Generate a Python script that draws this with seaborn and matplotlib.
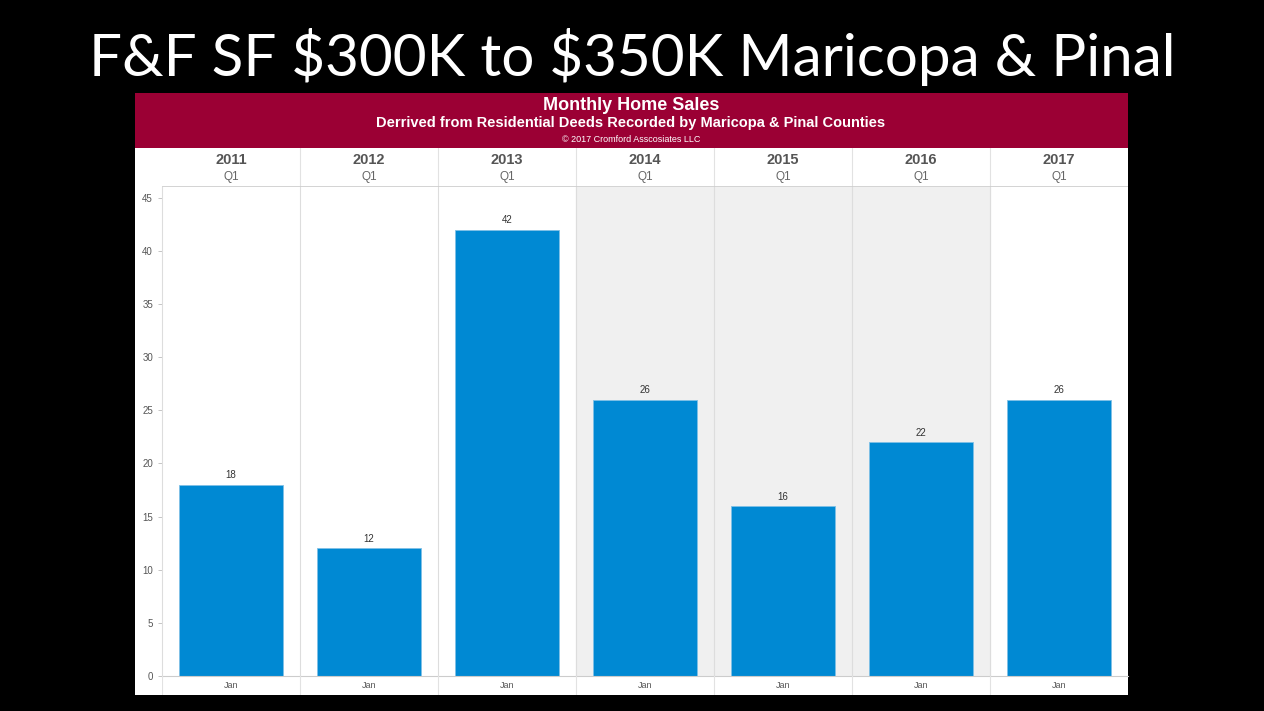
import matplotlib
matplotlib.use("Agg")
import matplotlib.pyplot as plt
import seaborn as sns
import pandas as pd
from matplotlib.patches import Rectangle

# Data
years = ["2011", "2012", "2013", "2014", "2015", "2016", "2017"]
quarters = ["Q1", "Q1", "Q1", "Q1", "Q1", "Q1", "Q1"]
months = ["Jan", "Jan", "Jan", "Jan", "Jan", "Jan", "Jan"]
sales = [18, 12, 42, 26, 16, 22, 26]
shaded_years = ["2014", "2015", "2016"]

df = pd.DataFrame({"year": years, "sales": sales})

W, H = 1264, 711
fig = plt.figure(figsize=(W / 100, H / 100), dpi=100)
fig.patch.set_facecolor("black")

def fx(px):
    return px / W

def fy(py):
    return 1 - py / H

# slide title
fig.text(0.5, fy(57), "F&F SF $300K to $350K Maricopa & Pinal", color="white",
         fontsize=42, ha="center", va="center", family=["Lato", "DejaVu Sans"],
         parse_math=False)

# white panel + crimson header (behind the axes)
fig.add_artist(Rectangle((fx(135), fy(695)), fx(1128 - 135), (695 - 93) / H,
                         transform=fig.transFigure, facecolor="white", zorder=-2))
fig.add_artist(Rectangle((fx(135), fy(148)), fx(1128 - 135), (148 - 93) / H,
                         transform=fig.transFigure, facecolor="#9B0034", zorder=-1))
font = ["Liberation Sans", "DejaVu Sans"]
fig.text(fx(631), fy(106), "Monthly Home Sales", color="white", fontsize=13,
         fontweight="bold", ha="center", va="center", family=font)
fig.text(fx(631), fy(123), "Derrived from Residential Deeds Recorded by Maricopa & Pinal Counties",
         color="white", fontsize=10.5, fontweight="bold", ha="center", va="center", family=font)
fig.text(fx(631), fy(140), "\u00a9 2017 Cromford Asscosiates LLC", color="white", fontsize=6.5,
         ha="center", va="center", family=font)

# main axes
ax = fig.add_axes([fx(162), fy(676), fx(1128 - 162), (676 - 187) / H])
ax.set_facecolor("white")
for i, y in enumerate(years):
    if y in shaded_years:
        ax.axvspan(i - 0.5, i + 0.5, color="#F0F0F0", zorder=0)
sns.barplot(data=df, x="year", y="sales", color="#0089D3", saturation=1,
            width=0.76, edgecolor="#7FC0E6", linewidth=0.6, ax=ax, zorder=2)
for i, v in enumerate(sales):
    ax.text(i, v + 0.4, str(v), ha="center", va="bottom", fontsize=7,
            color="#333333", family=font)
for i in range(1, len(years)):
    ax.axvline(i - 0.5, color="#DDDDDD", lw=0.8, zorder=1)
ax.set_xlim(-0.5, len(years) - 0.5)
ax.set_ylim(0, 46)
ax.set_yticks(range(0, 46, 5))
ax.tick_params(axis="y", labelsize=7, colors="#555555", length=3, width=0.6,
               color="#BBBBBB")
for lab in ax.get_yticklabels():
    lab.set_family(font)
ax.set_xticks([])
ax.set_xlabel("")
ax.set_ylabel("")
for s in ["top", "right"]:
    ax.spines[s].set_visible(False)
ax.spines["left"].set_color("#DDDDDD")
ax.spines["bottom"].set_color("#CCCCCC")
ax.spines["left"].set_linewidth(0.8)
ax.spines["bottom"].set_linewidth(0.8)

# column header axes (years, quarters)
hx = fig.add_axes([fx(162), fy(187), fx(1128 - 162), (187 - 148) / H])
hx.set_xlim(-0.5, len(years) - 0.5)
hx.set_ylim(0, 1)
hx.axis("off")
for i, (y, q) in enumerate(zip(years, quarters)):
    hx.text(i, 0.7, y, ha="center", va="center", fontsize=10.5, fontweight="bold",
            color="#555555", family=font)
    hx.text(i, 0.25, q, ha="center", va="center", fontsize=8.5, color="#666666", family=font)
for i in range(1, len(years)):
    hx.axvline(i - 0.5, color="#E2E2E2", lw=0.8)
hx.axhline(0, color="#CCCCCC", lw=1.2)

# bottom month row
bx = fig.add_axes([fx(162), fy(695), fx(1128 - 162), (695 - 676) / H])
bx.set_xlim(-0.5, len(years) - 0.5)
bx.set_ylim(0, 1)
bx.axis("off")
for i, m in enumerate(months):
    bx.text(i, 0.5, m, ha="center", va="center", fontsize=6.5, color="#555555", family=font)
for i in range(1, len(years)):
    bx.axvline(i - 0.5, color="#E2E2E2", lw=0.8)
bx.axvline(-0.5, color="#E2E2E2", lw=0.8)

fig.savefig("out.png", dpi=100, facecolor=fig.get_facecolor())
